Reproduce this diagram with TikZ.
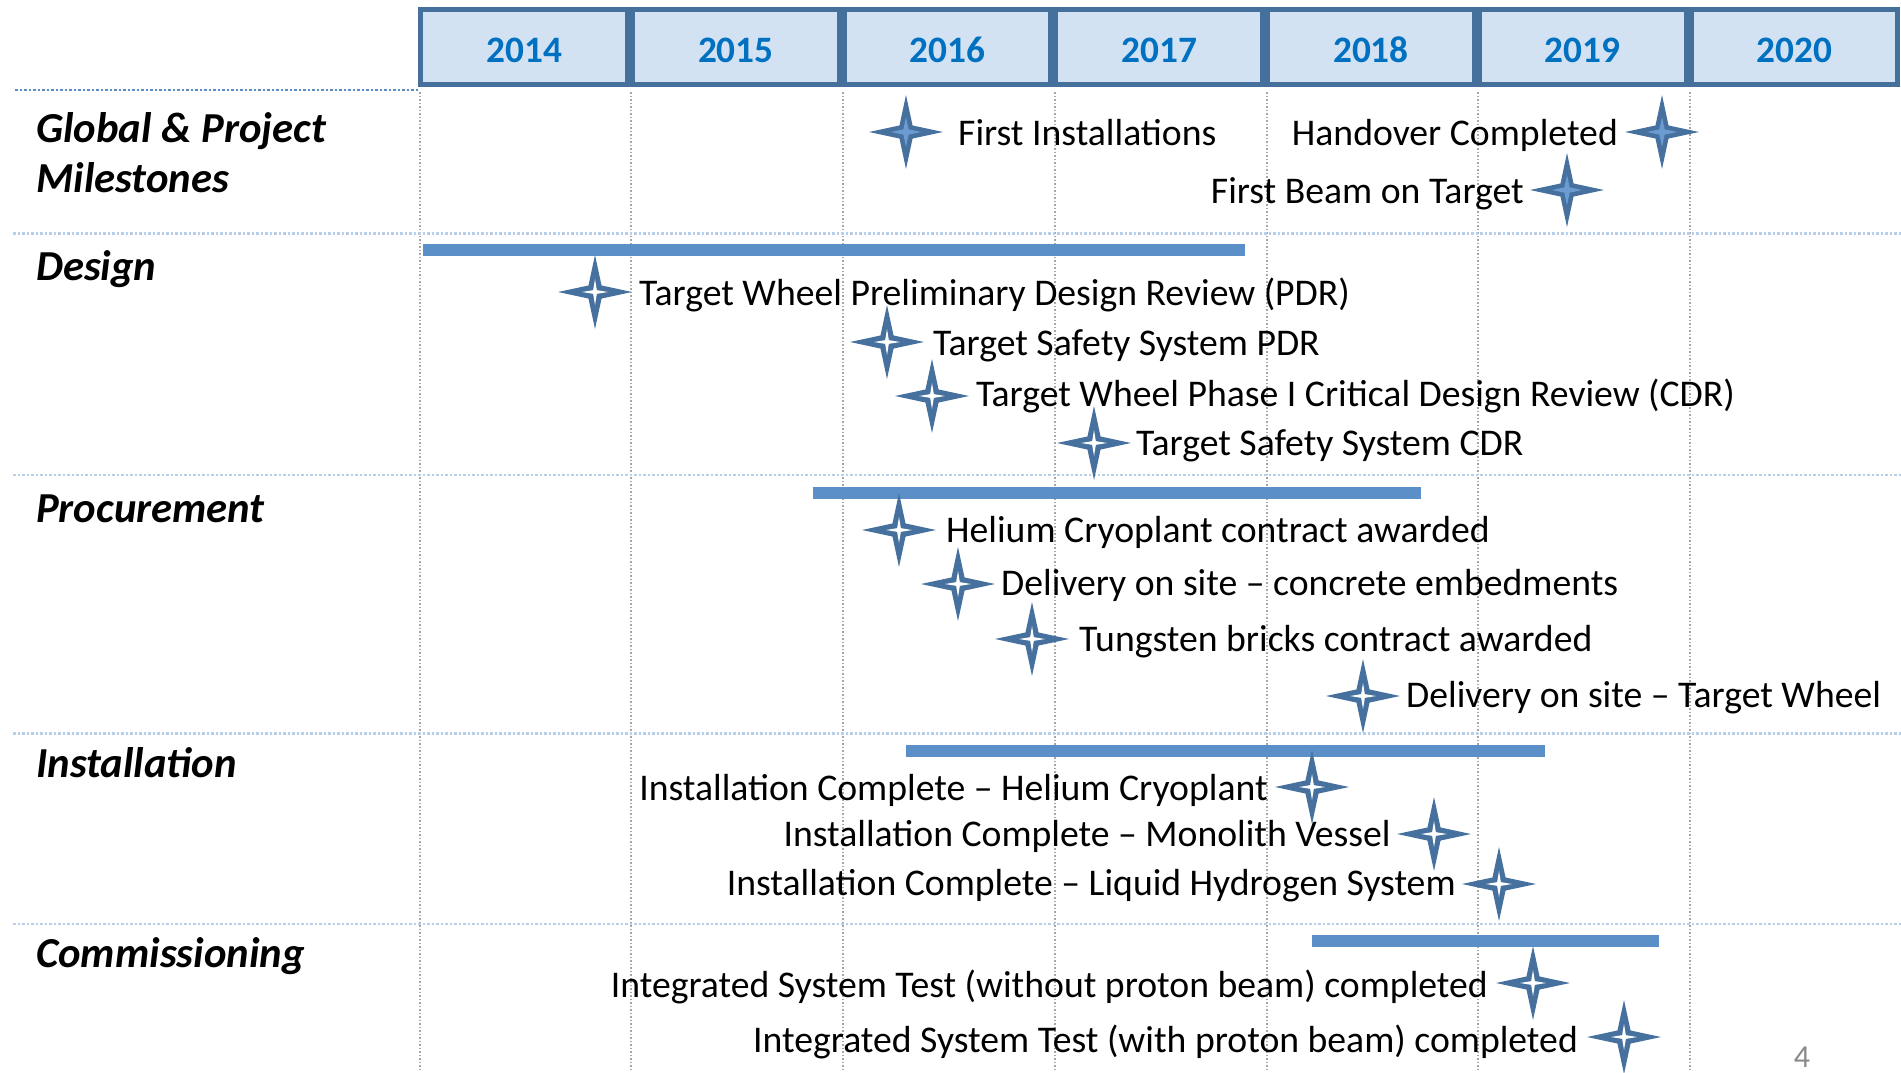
\documentclass[tikz,border=0pt]{standalone}
\usepackage{fontspec}
\setmainfont{Carlito}
\usetikzlibrary{shapes.geometric}
\definecolor{starblue}{HTML}{46719F}
\definecolor{starlight}{HTML}{6C9BD2}
\definecolor{headfill}{HTML}{D3E2F3}
\definecolor{headborder}{HTML}{46709C}
\definecolor{yearblue}{HTML}{0070C0}
\definecolor{barblue}{HTML}{5B8FC8}
\definecolor{gridgray}{HTML}{A6A6A6}
\definecolor{hlineblue}{HTML}{B8CFEA}
\definecolor{toplineblue}{HTML}{5B8CC4}
\definecolor{pagegray}{HTML}{898989}
\newcommand\msstar[4]{%
  \node[starout] (#1) at (#2,#3) {};
  \node[#4] (#1i) at (#1.center) {};}
\begin{document}
\begin{tikzpicture}[x=1pt,y=-1pt,
  yearbox/.style={draw=headborder, fill=headfill, line width=5pt, minimum width=206.7pt, minimum height=75.6pt, inner sep=0pt},
  yeartext/.style={font=\fontsize{37.3}{44}\selectfont\bfseries, text=yearblue, inner sep=0pt},
  rowlabel/.style={font=\fontsize{42.7}{48}\selectfont\bfseries\itshape, anchor=base west, inner sep=0pt},
  mtext/.style={font=\fontsize{37.7}{44}\selectfont, inner sep=0pt},
  starout/.style={star, star points=4, star point ratio=4, minimum size=74pt, inner sep=0pt, fill=starblue, draw=none},
  starin/.style={star, star points=4, star point ratio=5, minimum size=26pt, inner sep=0pt, fill=white, draw=none},
  starinblue/.style={star, star points=4, star point ratio=4, minimum size=30pt, inner sep=0pt, fill=starlight, draw=none},
  gridv/.style={draw=gridgray, line width=1.5pt, dash pattern=on 1.5pt off 2pt},
  gridh/.style={draw=hlineblue, line width=2.5pt, dash pattern=on 2.5pt off 2pt},
  topline/.style={draw=toplineblue, line width=2.5pt, dash pattern=on 2.5pt off 2pt},
  bar/.style={draw=barblue, line width=12pt},
]
\useasboundingbox (0,0) rectangle (1901,1072);
% vertical grid
\foreach \gx in {420,631,843,1055,1267,1478,1690}
  \draw[gridv] (\gx,92) -- (\gx,1072);
% horizontal separators
\draw[topline] (15,90) -- (418,90);
\foreach \gy in {233.5,475,733.5,924}
  \draw[gridh] (13,\gy) -- (1901,\gy);
% header
\foreach \yr [count=\i from 0] in {2014,2015,2016,2017,2018,2019,2020}{
  \node[yearbox] (h\yr) at ({418.3+211.7*\i+105.85},47) {};
  \node[yeartext] (y\yr) at ([yshift=-3pt]h\yr.center) {\yr};
}
% row labels
\node[rowlabel] (lg1) at (36,142) {Global \& Project};
\node[rowlabel] (lg2) at (36,192) {Milestones};
\node[rowlabel] (ld) at (36,280) {Design};
\node[rowlabel] (lp) at (36,522) {Procurement};
\node[rowlabel] (li) at (36,777) {Installation};
\node[rowlabel] (lc) at (36,967) {Commissioning};
% bars
\draw[bar] (423,250) -- (1245,250);
\draw[bar] (813,493) -- (1421,493);
\draw[bar] (906,751) -- (1545,751);
\draw[bar] (1312,941) -- (1659,941);
% global milestones
\msstar{s1}{906}{132}{starinblue}
\node[mtext, anchor=base west] (t1) at (958,145) {First Installations};
\msstar{s2}{1662}{132}{starinblue}
\node[mtext, anchor=base east] (t2) at (1618,145) {Handover Completed};
\msstar{s3}{1567}{190}{starinblue}
\node[mtext, anchor=base east] (t3) at (1524,203) {First Beam on Target};
% design
\msstar{s4}{595}{292}{starin}
\node[mtext, anchor=base west] (t4) at (639,305) {Target Wheel Preliminary Design Review (PDR)};
\msstar{s5}{887}{342}{starin}
\node[mtext, anchor=base west] (t5) at (933,355) {Target Safety System PDR};
\msstar{s6}{932}{396}{starin}
\node[mtext, anchor=base west] (t6) at (976,406) {Target Wheel Phase I Critical Design Review (CDR)};
\msstar{s7}{1094}{443}{starin}
\node[mtext, anchor=base west] (t7) at (1136,455) {Target Safety System CDR};
% procurement
\msstar{s8}{899}{530}{starin}
\node[mtext, anchor=base west] (t8) at (946,542) {Helium Cryoplant contract awarded};
\msstar{s9}{958}{584}{starin}
\node[mtext, anchor=base west] (t9) at (1001,595) {Delivery on site \textendash{} concrete embedments};
\msstar{s10}{1032}{639}{starin}
\node[mtext, anchor=base west] (t10) at (1079,651) {Tungsten bricks contract awarded};
\msstar{s11}{1363}{696}{starin}
\node[mtext, anchor=base west] (t11) at (1406,707) {Delivery on site \textendash{} Target Wheel};
% installation
\msstar{s12}{1312}{787}{starin}
\node[mtext, anchor=base east] (t12) at (1268,800) {Installation Complete \textendash{} Helium Cryoplant};
\msstar{s13}{1434}{834}{starin}
\node[mtext, anchor=base east] (t13) at (1391,846) {Installation Complete \textendash{} Monolith Vessel};
\msstar{s14}{1499}{884}{starin}
\node[mtext, anchor=base east] (t14) at (1456,895) {Installation Complete \textendash{} Liquid Hydrogen System};
% commissioning
\msstar{s15}{1533}{983}{starin}
\node[mtext, anchor=base east] (t15) at (1488,997) {Integrated System Test (without proton beam) completed};
\msstar{s16}{1624}{1037}{starin}
\node[mtext, anchor=base east] (t16) at (1578,1052) {Integrated System Test (with proton beam) completed};
% page number
\node[font=\fontsize{32}{36}\selectfont, text=pagegray, inner sep=0pt] (pnum) at (1802,1057) {4};
\end{tikzpicture}
\end{document}
